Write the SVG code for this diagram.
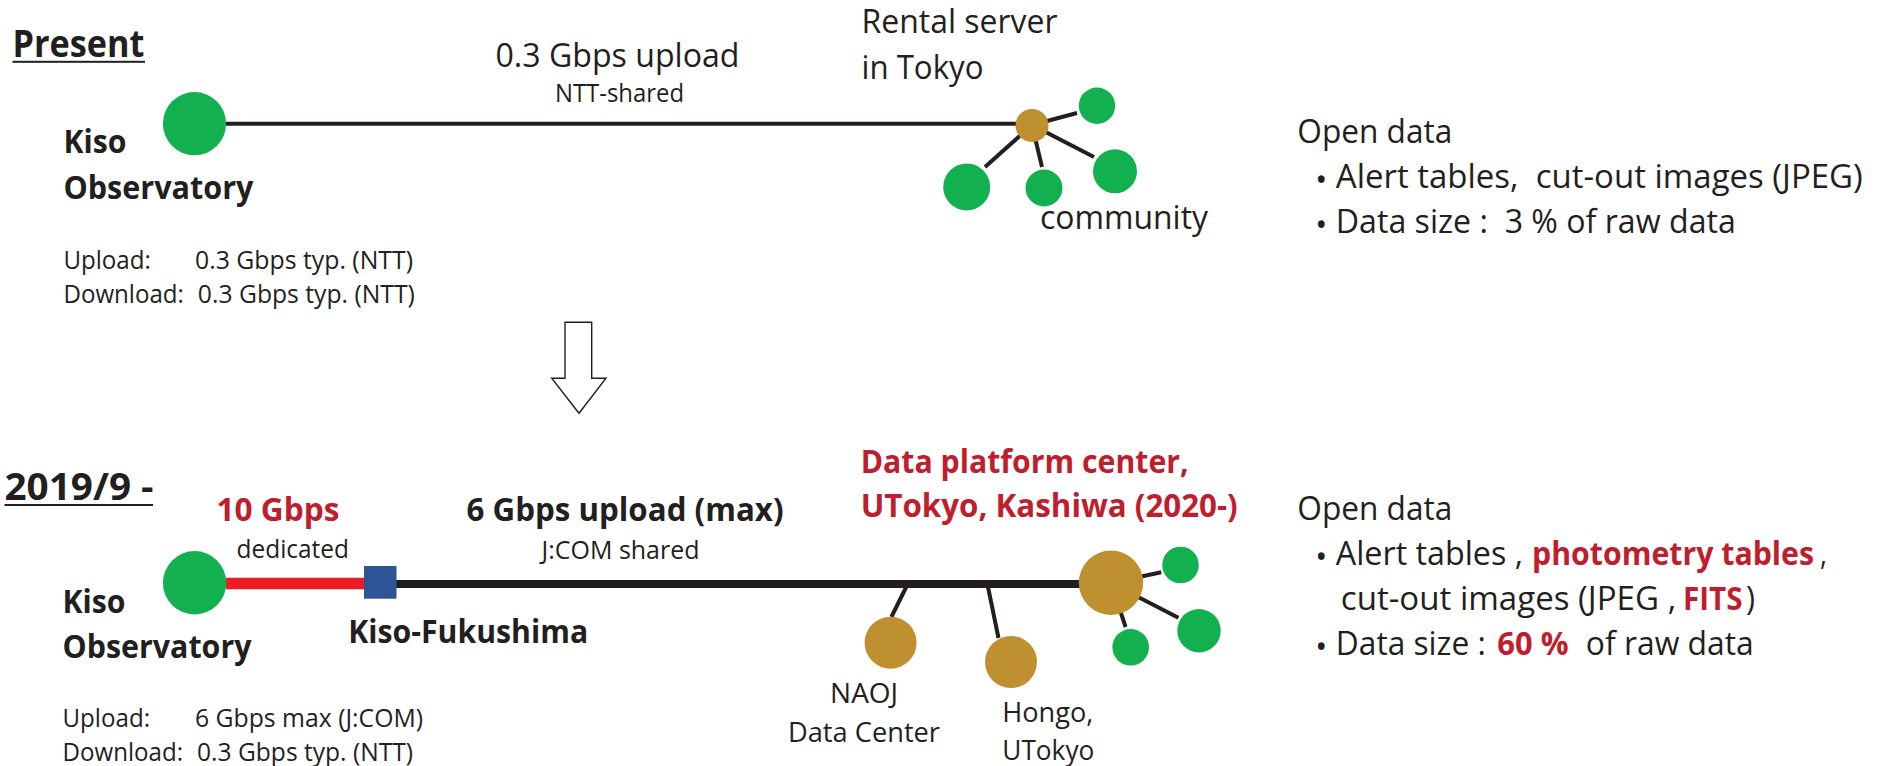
<svg xmlns="http://www.w3.org/2000/svg" width="1883" height="766" viewBox="0 0 1883 766">
<style>
text{font-family:"Open Sans","Liberation Sans",sans-serif;fill:#231F20;white-space:pre}
.b{font-weight:700}
.red{fill:#BE1E2D}
.L{font-size:33px}
.XL{font-size:37px}
.M{font-size:28px}
.S{font-size:25px}
.bul{font-size:32px}
.green{fill:#12B04F}
.gold{fill:#BF902F}
.con{stroke:#231F20;stroke-width:4;fill:none}
</style>
<rect width="1883" height="766" fill="#FFFFFF"/>

<!-- Connectors -->
<g id="connectors">
  <line class="con" x1="226" y1="123.8" x2="1032" y2="123.8"/>
  <line class="con" x1="1032" y1="125" x2="1077" y2="113"/>
  <line class="con" x1="1032" y1="125" x2="985" y2="167"/>
  <line class="con" x1="1032" y1="125" x2="1042" y2="167"/>
  <line class="con" x1="1032" y1="125" x2="1094" y2="157"/>
  <line x1="226" y1="583.5" x2="364" y2="583.5" stroke="#ED1C24" stroke-width="11.6"/>
  <line x1="396" y1="584" x2="1085" y2="584" stroke="#231F20" stroke-width="8"/>
  <line class="con" x1="906.7" y1="586" x2="891.4" y2="617"/>
  <line class="con" x1="987.8" y1="586" x2="998.5" y2="638"/>
  <line class="con" x1="1111" y1="583" x2="1161.2" y2="572.3"/>
  <line class="con" x1="1111" y1="583" x2="1178.4" y2="617.7"/>
  <line class="con" x1="1111" y1="583" x2="1125.6" y2="627"/>
</g>

<!-- Section titles -->
<g id="title-present">
  <text class="b XL" x="12.5" y="57" textLength="132" lengthAdjust="spacingAndGlyphs">Present</text>
  <rect x="12.5" y="60.8" width="132.5" height="2" fill="#231F20"/>
</g>
<g id="title-2019">
  <text class="b XL" x="4.5" y="500" textLength="149" lengthAdjust="spacingAndGlyphs">2019/9 -</text>
  <rect x="4.5" y="504" width="148.5" height="2" fill="#231F20"/>
</g>

<!-- Present network -->
<g id="kiso-present">
  <circle class="green" cx="194.5" cy="123.7" r="31.6"/>
  <text class="b L" x="63.4" y="153" textLength="63" lengthAdjust="spacingAndGlyphs">Kiso</text>
  <text class="b L" x="63.4" y="199" textLength="190" lengthAdjust="spacingAndGlyphs">Observatory</text>
</g>
<g id="link-present-label">
  <text class="L" x="495.5" y="66.7" textLength="244" lengthAdjust="spacingAndGlyphs">0.3 Gbps upload</text>
  <text class="S" x="555" y="101.7" textLength="129" lengthAdjust="spacingAndGlyphs">NTT-shared</text>
</g>
<g id="rental-server">
  <circle class="gold" cx="1032" cy="125.5" r="16.5"/>
  <text class="L" x="861.5" y="33.3" textLength="196" lengthAdjust="spacingAndGlyphs">Rental server</text>
  <text class="L" x="861.5" y="79" textLength="122" lengthAdjust="spacingAndGlyphs">in Tokyo</text>
</g>
<g id="community-present">
  <circle class="green" cx="1097" cy="105.7" r="18.2"/>
  <circle class="green" cx="966.7" cy="187" r="23.5"/>
  <circle class="green" cx="1044" cy="188" r="18.5"/>
  <circle class="green" cx="1115" cy="171.3" r="22"/>
  <text class="L" x="1040" y="229.3" textLength="168" lengthAdjust="spacingAndGlyphs">community</text>
</g>
<g id="speeds-present">
  <text class="S" x="63.4" y="269.3" textLength="87.5" lengthAdjust="spacingAndGlyphs">Upload:</text>
  <text class="S" x="195" y="269.3" textLength="218" lengthAdjust="spacingAndGlyphs">0.3 Gbps typ. (NTT)</text>
  <text class="S" x="63.4" y="303.3" textLength="120.5" lengthAdjust="spacingAndGlyphs">Download:</text>
  <text class="S" x="197.8" y="303.3" textLength="217" lengthAdjust="spacingAndGlyphs">0.3 Gbps typ. (NTT)</text>
</g>
<g id="opendata-present">
  <text class="L" x="1297.3" y="143.3" textLength="155" lengthAdjust="spacingAndGlyphs">Open data</text>
  <text class="bul" x="1321.3" y="191" text-anchor="middle">•</text>
  <text class="L" x="1335.8" y="188.3" textLength="527" lengthAdjust="spacingAndGlyphs">Alert tables,  cut-out images (JPEG)</text>
  <text class="bul" x="1321.3" y="236" text-anchor="middle">•</text>
  <text class="L" x="1335.8" y="233.3" textLength="400" lengthAdjust="spacingAndGlyphs">Data size :  3 % of raw data</text>
</g>

<!-- Down arrow -->
<g id="down-arrow">
  <polygon points="565,322.3 591.7,322.3 591.7,378.3 606,378.3 579,413.3 551.7,378.3 565,378.3" fill="#FFFFFF" stroke="#231F20" stroke-width="1.4" stroke-linejoin="miter"/>
</g>

<!-- 2019/9 network -->
<g id="kiso-2019">
  <circle class="green" cx="194.6" cy="582.8" r="31.7"/>
  <text class="b L" x="62.5" y="613.3" textLength="63" lengthAdjust="spacingAndGlyphs">Kiso</text>
  <text class="b L" x="62.5" y="658.3" textLength="189" lengthAdjust="spacingAndGlyphs">Observatory</text>
</g>
<g id="link-dedicated-label">
  <text class="b L red" x="216.5" y="521" textLength="123" lengthAdjust="spacingAndGlyphs">10 Gbps</text>
  <text class="S" x="236.6" y="558.3" textLength="112.4" lengthAdjust="spacingAndGlyphs">dedicated</text>
</g>
<g id="kiso-fukushima">
  <rect x="364" y="566" width="32.5" height="32.7" fill="#2E5496"/>
  <text class="b L" x="348.2" y="643.3" textLength="240" lengthAdjust="spacingAndGlyphs">Kiso-Fukushima</text>
</g>
<g id="link-jcom-label">
  <text class="b L" x="466.5" y="521" textLength="317" lengthAdjust="spacingAndGlyphs">6 Gbps upload (max)</text>
  <text class="S" x="541.5" y="559" textLength="158" lengthAdjust="spacingAndGlyphs">J:COM shared</text>
</g>
<g id="naoj">
  <circle class="gold" cx="890.6" cy="642.7" r="26"/>
  <text class="M" x="830.1" y="703.3" textLength="68" lengthAdjust="spacingAndGlyphs">NAOJ</text>
  <text class="M" x="788" y="741.7" textLength="152" lengthAdjust="spacingAndGlyphs">Data Center</text>
</g>
<g id="hongo">
  <circle class="gold" cx="1011" cy="662" r="26"/>
  <text class="M" x="1002.3" y="721.7" textLength="91" lengthAdjust="spacingAndGlyphs">Hongo,</text>
  <text class="M" x="1002.3" y="760" textLength="92" lengthAdjust="spacingAndGlyphs">UTokyo</text>
</g>
<g id="kashiwa">
  <circle class="gold" cx="1111" cy="582.7" r="32.2"/>
  <text class="b L red" x="860.7" y="473.3" textLength="328" lengthAdjust="spacingAndGlyphs">Data platform center,</text>
  <text class="b L red" x="860.7" y="516.7" textLength="377" lengthAdjust="spacingAndGlyphs">UTokyo, Kashiwa (2020-)</text>
</g>
<g id="community-2019">
  <circle class="green" cx="1180.5" cy="565" r="18.3"/>
  <circle class="green" cx="1199" cy="630.7" r="21.7"/>
  <circle class="green" cx="1130.7" cy="647.3" r="18.3"/>
</g>
<g id="speeds-2019">
  <text class="S" x="62.5" y="727.3" textLength="87.5" lengthAdjust="spacingAndGlyphs">Upload:</text>
  <text class="S" x="195" y="727.3" textLength="228" lengthAdjust="spacingAndGlyphs">6 Gbps max (J:COM)</text>
  <text class="S" x="62.5" y="760.7" textLength="120.5" lengthAdjust="spacingAndGlyphs">Download:</text>
  <text class="S" x="197" y="760.7" textLength="216" lengthAdjust="spacingAndGlyphs">0.3 Gbps typ. (NTT)</text>
</g>
<g id="opendata-2019">
  <text class="L" x="1297.3" y="520" textLength="155" lengthAdjust="spacingAndGlyphs">Open data</text>
  <text class="bul" x="1321.3" y="567.7" text-anchor="middle">•</text>
  <text class="L" x="1335.8" y="565" textLength="187.3" lengthAdjust="spacingAndGlyphs">Alert tables ,</text>
  <text class="b L red" x="1532" y="565" textLength="282" lengthAdjust="spacingAndGlyphs">photometry tables</text>
  <text class="L" x="1820" y="565" textLength="7" lengthAdjust="spacingAndGlyphs">,</text>
  <text class="L" x="1340.8" y="610" textLength="335.4" lengthAdjust="spacingAndGlyphs">cut-out images (JPEG ,</text>
  <text class="b L red" x="1683" y="610" textLength="59.5" lengthAdjust="spacingAndGlyphs">FITS</text>
  <text class="L" x="1746" y="610" textLength="9" lengthAdjust="spacingAndGlyphs">)</text>
  <text class="bul" x="1321.3" y="657.7" text-anchor="middle">•</text>
  <text class="L" x="1335.8" y="655" textLength="150" lengthAdjust="spacingAndGlyphs">Data size :</text>
  <text class="b L red" x="1497.3" y="655" textLength="71.2" lengthAdjust="spacingAndGlyphs">60 %</text>
  <text class="L" x="1585.8" y="655" textLength="168" lengthAdjust="spacingAndGlyphs">of raw data</text>
</g>
</svg>
